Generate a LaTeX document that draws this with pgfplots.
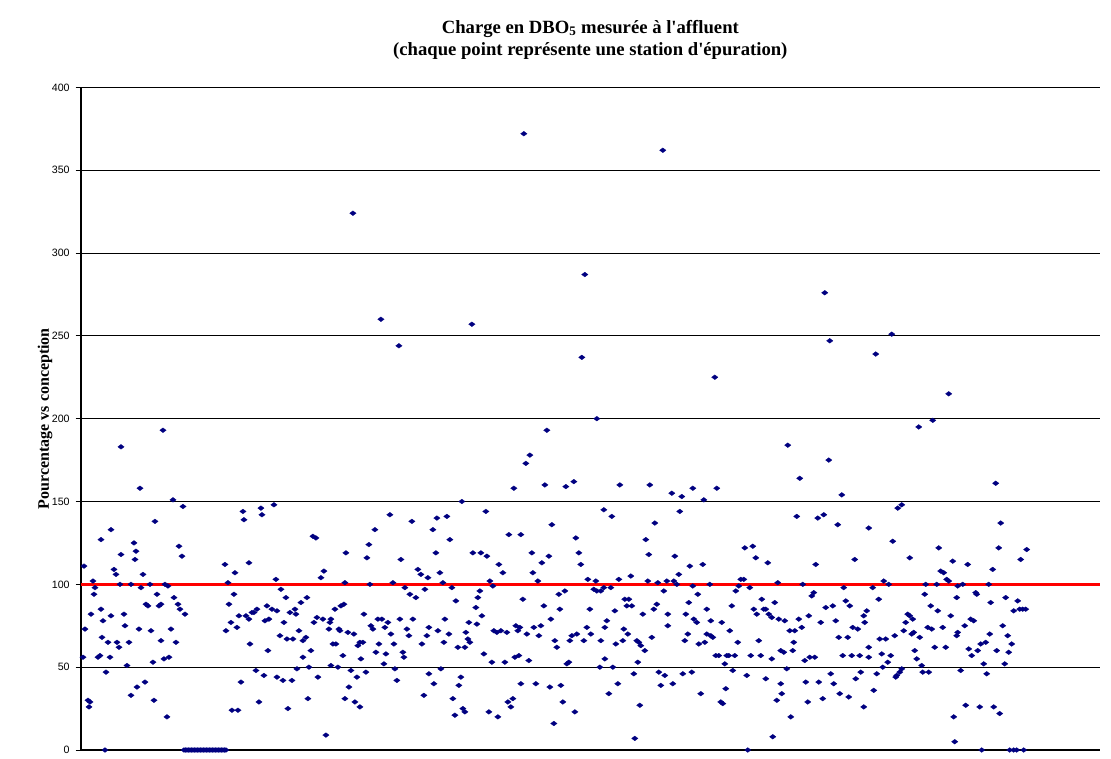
\documentclass[border=0pt]{standalone}
\usepackage{pgfplots}
\pgfplotsset{compat=1.18}
\usepackage{fontspec}
\setmainfont{Liberation Serif}
\newfontfamily\arial{Liberation Sans}
\definecolor{stationblue}{RGB}{0,0,128}
\definecolor{lignerouge}{RGB}{255,0,0}

% x = position of the station along the chart, y = % vs conception
\pgfplotstableread{
x y
83 56
84 111
85 73
88 30
89 26
90 29
91 82
93 102
94 94
95 98
98 56
100 57
101 85
101 127
102 68
103 78
105 0
106 47
108 65
110 56
111 133
111 81
114 109
116 106
117 65
119 62
120 100
121 183
121 118
124 82
125 75
127 51
129 65
131 100
131 33
134 125
135 115
136 120
137 38
139 73
140 158
141 98
143 106
145 41
146 88
148 87
150 100
151 72
153 53
154 30
155 138
157 94
159 87
161 88
161 66
163 193
164 55
165 100
167 20
168 99
169 56
171 73
173 151
174 92
176 65
178 88
179 123
180 85
182 117
183 147
185 82
225 112
226 72
228 101
229 88
231 77
232 24
234 94
235 107
237 74
238 24
239 81
241 41
243 144
244 139
246 81
249 113
249 79
250 64
252 83
254 83
256 48
257 85
259 29
261 146
262 142
264 45
265 78
267 87
268 60
269 79
272 85
274 148
276 103
277 84
277 44
280 69
281 97
283 42
284 77
286 92
287 67
288 25
290 83
292 42
293 67
295 85
296 82
297 49
299 72
301 89
303 66
303 56
306 68
307 92
308 31
309 50
311 60
313 129
314 77
316 128
317 80
318 44
321 104
323 79
324 108
326 9
329 73
330 77
331 79
331 51
333 64
335 85
336 64
338 50
339 73
340 72
341 87
343 57
344 88
345 101
345 31
346 119
348 71
349 38
351 48
353 324
354 70
355 29
357 44
358 63
360 65
360 26
361 55
363 65
364 82
366 47
367 116
369 124
370 100
371 75
373 73
375 133
376 59
378 79
379 64
381 260
382 79
384 52
385 74
386 58
388 77
390 142
391 70
393 101
394 64
395 49
397 42
399 244
400 79
401 115
403 59
404 56
405 98
407 73
409 69
410 94
412 138
413 79
416 92
418 109
421 106
422 64
424 33
425 97
427 69
428 104
429 74
429 46
433 133
434 40
436 119
437 140
438 72
440 107
441 49
443 101
444 65
445 79
447 141
449 70
450 127
452 98
453 31
455 21
456 90
458 62
459 39
461 44
462 150
463 25
465 62
465 23
466 71
468 67
469 77
470 65
472 257
473 119
476 86
477 76
478 92
480 96
481 119
482 81
484 58
486 144
487 117
489 23
490 102
492 53
493 99
494 72
497 71
498 20
499 112
501 72
503 107
505 53
507 71
508 29
509 130
511 26
513 31
514 158
515 56
516 75
518 72
519 57
520 74
521 130
521 40
523 91
524 372
526 173
527 70
529 54
530 178
532 119
533 107
534 74
536 40
538 102
539 69
541 75
542 113
544 87
545 160
547 193
549 117
550 38
551 79
552 136
554 16
555 66
557 62
559 94
560 85
561 39
563 29
565 96
566 159
567 52
569 53
570 66
572 69
574 162
575 23
576 128
577 70
579 119
581 112
582 237
584 66
585 287
587 74
588 103
590 85
591 70
594 97
596 102
597 200
597 96
600 50
601 96
601 66
604 98
604 145
605 74
605 55
607 78
609 34
611 98
612 141
613 50
615 84
616 64
618 40
619 103
620 160
623 66
624 73
625 91
627 87
628 70
629 91
631 105
632 87
634 46
635 7
637 66
638 53
639 65
640 27
641 63
643 82
645 60
646 127
648 102
649 118
650 160
652 68
654 85
655 137
657 88
658 101
659 47
661 39
663 362
664 96
665 45
667 102
668 82
668 75
672 155
673 40
674 102
675 117
677 100
679 106
680 144
682 153
683 46
685 66
686 82
688 70
689 89
690 111
692 47
693 158
693 99
694 79
697 77
698 94
699 64
701 34
703 112
704 151
705 65
707 85
707 70
710 100
711 78
711 69
713 68
715 225
716 57
717 158
719 57
721 29
722 77
723 28
725 52
726 37
727 57
729 57
730 72
732 87
733 48
735 57
736 96
738 65
739 99
741 103
744 103
745 122
747 45
748 0
750 98
751 57
753 123
754 85
756 116
757 82
759 66
761 57
762 91
764 85
766 85
766 43
768 113
769 82
772 80
772 55
773 8
775 89
777 30
778 101
779 79
781 60
781 40
782 34
784 59
785 78
787 49
788 184
790 72
791 20
793 60
794 65
795 72
797 141
799 79
800 164
802 74
803 100
805 54
806 41
808 29
809 81
810 56
812 93
814 95
815 56
816 112
818 140
819 41
821 77
823 31
824 142
825 276
826 86
829 175
830 247
831 46
833 87
834 40
836 78
838 136
839 68
840 34
842 154
843 57
844 98
846 90
848 68
849 32
850 87
852 57
853 74
855 115
856 43
858 73
860 57
861 47
864 81
864 26
865 77
867 84
869 134
869 62
869 56
873 98
874 36
876 239
877 46
879 91
880 67
882 58
883 50
884 102
886 67
888 53
889 100
891 57
892 251
893 126
895 69
896 44
897 45
898 146
900 47
902 148
902 49
904 72
906 77
908 82
910 116
910 81
912 70
913 79
914 71
915 60
917 55
919 195
920 68
922 51
923 47
925 94
926 100
928 74
929 47
931 87
932 73
933 199
935 62
937 100
938 84
939 122
941 108
943 74
944 107
946 62
947 103
949 215
949 102
951 81
953 114
954 20
955 5
957 92
957 69
958 99
958 71
961 48
963 100
965 75
966 27
968 112
969 61
971 79
972 57
974 78
976 95
977 94
978 60
980 26
981 64
982 0
984 52
986 65
987 46
989 100
990 70
991 89
993 109
994 26
996 161
997 60
999 122
1000 22
1001 137
1003 75
1005 52
1006 92
1008 69
1009 59
1010 0
1012 64
1014 84
1014 0
1017 0
1018 90
1020 85
1021 115
1023 85
1024 0
1026 85
1027 121
}\stations

% stations reporting 0
\pgfplotstableread{
x y
184 0
185.5 0
187 0
188.5 0
190 0
191.5 0
193 0
194.5 0
196 0
197.5 0
199 0
200.5 0
202 0
203.5 0
205 0
206.5 0
208 0
209.5 0
211 0
212.5 0
214 0
215.5 0
217 0
218.5 0
220 0
221.5 0
223 0
224.5 0
226 0
}\zeros

\begin{document}
\begin{tikzpicture}
\path[use as bounding box] (-60.75pt,-6pt) rectangle (772.5pt,562.5pt);
\begin{axis}[
    at={(0,0)}, anchor=south west,
    scale only axis,
    width=764pt, height=497pt,
    xmin=81, xmax=1100,
    ymin=0, ymax=400,
    ytick={0,50,...,400},
    xtick=\empty,
    axis x line*=bottom,
    axis y line*=left,
    axis line style={black, line width=0.8pt, -},
    ymajorgrids,
    grid style={black, line width=0.6pt},
    tick align=outside,
    major tick length=4pt,
    tick style={black, line width=0.6pt},
    /pgf/number format/assume math mode=true,
    yticklabel style={font=\arial\fontsize{8}{10}\selectfont, xshift=-1pt},
    ylabel={\bfseries Pourcentage vs conception},
    every axis y label/.style={at={(rel axis cs:-0.0353,0.5)}, anchor=center,
        rotate=90, font=\fontsize{12}{14}\selectfont},
    title={\bfseries Charge en DBO\textsubscript{5} mesurée à l\textquotesingle affluent\\
        \bfseries (chaque point représente une station d\textquotesingle épuration)},
    title style={at={(0.5,1)}, anchor=south, yshift=14.5pt, inner sep=0pt,
        align=center, font=\fontsize{14}{17}\selectfont},
    clip=false,
]
\addplot[lignerouge, line width=2.3pt, forget plot] coordinates {(81,100) (1100,100)};
\addplot[only marks, mark=diamond*, mark size=2.4pt,
    mark options={rotate=90, draw=stationblue, fill=stationblue, line width=0.2pt}]
    table[x=x, y=y] {\stations};
\addplot[only marks, mark=diamond*, mark size=2.4pt,
    mark options={rotate=90, draw=stationblue, fill=stationblue, line width=0.2pt}]
    table[x=x, y=y] {\zeros};
\end{axis}
\end{tikzpicture}
\end{document}
